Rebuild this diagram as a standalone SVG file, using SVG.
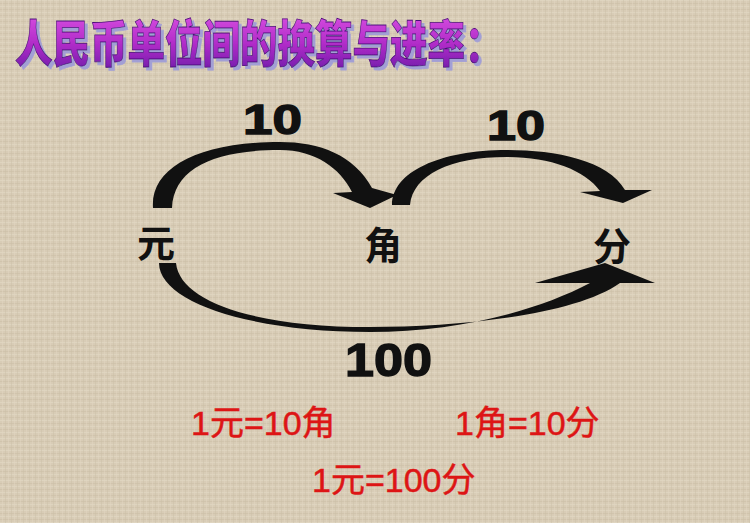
<svg xmlns="http://www.w3.org/2000/svg" width="750" height="523" viewBox="0 0 750 523">
  <defs>
    <pattern id="cloth" width="6" height="6" patternUnits="userSpaceOnUse">
      <rect width="6" height="6" fill="#d8ccb6"/>
      <rect x="0" y="0" width="6" height="1" fill="#e3d9c5" opacity="0.6"/>
      <rect x="0" y="3" width="6" height="1" fill="#c9bca4" opacity="0.5"/>
      <rect x="2" y="0" width="1" height="6" fill="#e1d6c2" opacity="0.5"/>
      <rect x="5" y="0" width="1" height="6" fill="#cbbea7" opacity="0.45"/>
    </pattern>
    <linearGradient id="titleGrad" x1="0" y1="0" x2="0" y2="1">
      <stop offset="0" stop-color="#e458e8"/>
      <stop offset="0.55" stop-color="#b02cc8"/>
      <stop offset="1" stop-color="#6418a4"/>
    </linearGradient>
    <filter id="titleShadow" x="-5%" y="-20%" width="110%" height="150%">
      <feOffset in="SourceAlpha" dx="3" dy="3" result="off"/>
      <feFlood flood-color="#9c9ad8" flood-opacity="0.9"/>
      <feComposite in2="off" operator="in" result="sh"/>
      <feMerge>
        <feMergeNode in="sh"/>
        <feMergeNode in="SourceGraphic"/>
      </feMerge>
    </filter>
    <style>
      .title { font-family: "Noto Sans CJK SC", sans-serif; font-weight: 900; font-size: 50px; }
      .num { font-family: "Liberation Sans", Arial, sans-serif; font-weight: bold; fill: #111; stroke: #111; stroke-width: 1.4; }
      .node { font-family: "Noto Sans CJK SC", sans-serif; font-weight: 700; font-size: 38px; fill: #111; text-anchor: middle; }
      .eq { font-family: "Liberation Sans", "Noto Sans CJK SC", sans-serif; font-size: 34px; fill: #dd1515; stroke: #dd1515; stroke-width: 0.5; }
      .arrow { fill: #111; stroke: none; }
    </style>
  </defs>

  <rect width="750" height="523" fill="url(#cloth)"/>

  <g id="title" filter="url(#titleShadow)">
    <text class="title" transform="translate(15,62) scale(0.75,1)" fill="url(#titleGrad)" stroke="#4a1078" stroke-width="0.8">人民币单位间的换算与进率：</text>
  </g>

  <g id="connectors">
    <path id="arrow-yuan-jiao" class="arrow" d="M153,208 C150,168 198,142 280,142 C320,142 354,155 372,188 L397,195 L370,208 L333,193 L352,192 C340,168 315,150 280,150 C214,150 174,168 172,208 Z"/>
    <path id="arrow-jiao-fen" class="arrow" d="M392,205 C392,172 440,150 507,150 C555,150 608,160 625,190 L652,190 L623,203 L580,192 L600,191 C585,170 550,157 507,157 C450,157 413,175 410,205 Z"/>
    <path id="arrow-yuan-fen" class="arrow" d="M159,263 C159,302 250,332 370,332 C455,332 535,312 590,283 L535,283 L605,263 L655,283 L620,283 C575,315 460,327 370,327 C255,327 180,302 176,263 Z"/>
    <text class="num" x="243" y="134" font-size="43" textLength="59" lengthAdjust="spacingAndGlyphs">10</text>
    <text class="num" x="487" y="140" font-size="42" textLength="58" lengthAdjust="spacingAndGlyphs">10</text>
    <text class="num" x="345" y="376" font-size="47" textLength="87" lengthAdjust="spacingAndGlyphs">100</text>
  </g>

  <g id="node-yuan">
    <text class="node" x="156" y="257">元</text>
  </g>
  <g id="node-jiao">
    <text class="node" x="383" y="259">角</text>
  </g>
  <g id="node-fen">
    <text class="node" x="612" y="260">分</text>
  </g>

  <g id="equations">
    <text class="eq" x="191" y="435">1元=10角</text>
    <text class="eq" x="455" y="435">1角=10分</text>
    <text class="eq" x="312" y="492">1元=100分</text>
  </g>
</svg>
